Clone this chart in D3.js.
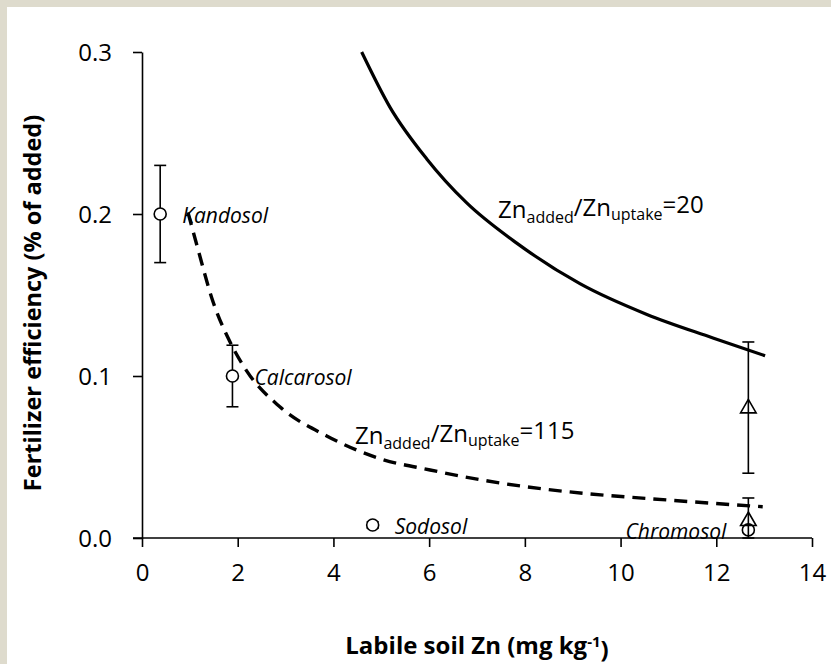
<!DOCTYPE html>
<html>
<head>
<meta charset="utf-8">
<script src="https://cdn.jsdelivr.net/npm/d3@7"></script>
<style>
  html, body { margin: 0; padding: 0; background: #ffffff; }
  svg { display: block; }
</style>
</head>
<body>
<svg id="chart" width="831" height="664"></svg>
<script>
// Soil observations: circles are one series, triangles the second series
const soils = ["Kandosol", "Calcarosol", "Sodosol", "Chromosol"];
const soilZn = [0.38, 1.89, 4.82, 12.67];
const soilEff = [0.200, 0.100, 0.008, 0.005];
const soilErr = [0.030, 0.019, 0.002, 0.000];
const labelSide = ["right", "right", "right", "left"];

const triZn = [12.67, 12.67];
const triEff = [0.080, 0.0105];
const triErrHi = [0.041, 0.0142];
const triErrLo = [0.040, 0.0105];

// Reference curve Zn_added/Zn_uptake = 20 (solid)
const curve20Zn = [4.59, 5.18, 5.95, 6.78, 7.83, 9.15, 10.55, 11.93, 13.02];
const curve20Eff = [0.300, 0.266, 0.234, 0.207, 0.182, 0.157, 0.138, 0.1235, 0.1125];

// Reference curve Zn_added/Zn_uptake = 115 (dashed)
const curve115Zn = [0.96, 1.2, 1.46, 1.84, 2.19, 2.88, 3.86, 4.97, 6.02, 7.06, 8.46, 9.22, 10.96, 12.97];
const curve115Eff = [0.201, 0.175, 0.148, 0.121, 0.103, 0.081, 0.063, 0.049, 0.042, 0.036, 0.030, 0.0276, 0.0235, 0.0193];

// Curve annotations: ratio value and text anchor (data units)
const ratioLabels = ["20", "115"];
const ratioAnchorZn = [7.44, 4.45];
const ratioAnchorEff = [0.1975, 0.058];

const xTicks = [0, 2, 4, 6, 8, 10, 12, 14];
const yTicks = [0.0, 0.1, 0.2, 0.3];

const W = 831, H = 664;
const margin = { left: 142, right: 19, top: 52, bottom: 126 };
const FONT = "'Open Sans', 'Liberation Sans', sans-serif";

const svg = d3.select("#chart");

// beige frame on the left and top edges
svg.append("rect").attr("x", 0).attr("y", 0).attr("width", W).attr("height", H).attr("fill", "#dedbcd");
svg.append("rect").attr("x", 7).attr("y", 7).attr("width", W - 7).attr("height", H - 7).attr("fill", "#ffffff");

const x = d3.scaleLinear().domain([0, 14]).range([margin.left, W - margin.right]);
const y = d3.scaleLinear().domain([0, 0.3]).range([H - margin.bottom, margin.top]);

// axes
const xAxis = svg.append("g")
  .attr("transform", `translate(0,${y(0)})`)
  .call(d3.axisBottom(x).tickValues(xTicks).tickFormat(d3.format("d")).tickSize(9).tickSizeOuter(0).tickPadding(17));
const yAxis = svg.append("g")
  .attr("transform", `translate(${x(0)},0)`)
  .call(d3.axisLeft(y).tickValues(yTicks).tickFormat(d3.format(".1f")).tickSize(9).tickSizeOuter(0).tickPadding(21));

[xAxis, yAxis].forEach(g => {
  g.select(".domain").attr("stroke", "#000").attr("stroke-width", 1.6);
  g.selectAll(".tick line").attr("stroke", "#000").attr("stroke-width", 1.6);
  g.selectAll(".tick text").attr("fill", "#000").style("font-family", FONT).style("font-size", "24px");
});
// x axis line reaches back to the y tick length
xAxis.select(".domain").attr("d", `M${x(0) - 9},0H${x(14)}`);
yAxis.selectAll(".tick text").attr("dy", "0.36em");

// axis titles
svg.append("text")
  .attr("transform", `translate(41,${303}) rotate(-90)`)
  .attr("text-anchor", "middle")
  .style("font-family", FONT).style("font-weight", "bold").style("font-size", "23.5px")
  .text("Fertilizer efficiency (% of added)");

const xt = svg.append("text")
  .attr("x", (x(0) + x(14)) / 2).attr("y", 654)
  .attr("text-anchor", "middle")
  .style("font-family", FONT).style("font-weight", "bold").style("font-size", "24px");
xt.append("tspan").text("Labile soil Zn (mg kg");
xt.append("tspan").attr("dy", "-0.45em").style("font-size", "15px").text("-1");
xt.append("tspan").attr("dy", "0.45em").text(")");

// reference curves
const line = d3.line().x(d => x(d[0])).y(d => y(d[1])).curve(d3.curveMonotoneX);
svg.append("path")
  .datum(curve20Zn.map((v, i) => [v, curve20Eff[i]]))
  .attr("d", line).attr("fill", "none").attr("stroke", "#000").attr("stroke-width", 3.2);
svg.append("path")
  .datum(curve115Zn.map((v, i) => [v, curve115Eff[i]]))
  .attr("d", line).attr("fill", "none").attr("stroke", "#000").attr("stroke-width", 3.4)
  .attr("stroke-dasharray", "13,8");

// curve annotations
ratioLabels.forEach((r, i) => {
  const t = svg.append("text")
    .attr("x", x(ratioAnchorZn[i])).attr("y", y(ratioAnchorEff[i]))
    .style("font-family", FONT).style("font-size", "24px").attr("fill", "#000");
  t.append("tspan").text("Zn");
  t.append("tspan").attr("dy", "0.3em").style("font-size", "16px").text("added");
  t.append("tspan").attr("dy", "-0.3em").text("/Zn");
  t.append("tspan").attr("dy", "0.3em").style("font-size", "16px").text("uptake");
  t.append("tspan").attr("dy", "-0.3em").text("=" + r);
});

// error bar helper
function errorBar(g, cx, lo, hi) {
  const px = x(cx), cap = 6;
  g.append("line").attr("x1", px).attr("x2", px).attr("y1", y(lo)).attr("y2", y(hi));
  g.append("line").attr("x1", px - cap).attr("x2", px + cap).attr("y1", y(hi)).attr("y2", y(hi));
  g.append("line").attr("x1", px - cap).attr("x2", px + cap).attr("y1", y(lo)).attr("y2", y(lo));
}

// circle series
const gc = svg.append("g").attr("stroke", "#000").attr("stroke-width", 1.6);
soils.forEach((s, i) => {
  if (soilErr[i] > 0) errorBar(gc, soilZn[i], soilEff[i] - soilErr[i], soilEff[i] + soilErr[i]);
});
gc.selectAll("circle").data(soils).join("circle")
  .attr("cx", (d, i) => x(soilZn[i])).attr("cy", (d, i) => y(soilEff[i]))
  .attr("r", 6).attr("fill", "#fff");

// triangle series
const gt = svg.append("g").attr("stroke", "#000").attr("stroke-width", 1.6).attr("fill", "none");
triZn.forEach((v, i) => errorBar(gt, v, triEff[i] - triErrLo[i], triEff[i] + triErrHi[i]));
gt.selectAll("path.tri").data(triZn).join("path").attr("class", "tri")
  .attr("d", d3.symbol(d3.symbolTriangle, 105))
  .attr("transform", (d, i) => `translate(${x(d)},${y(triEff[i])})`);

// soil names
svg.append("g").selectAll("text").data(soils).join("text")
  .attr("x", (d, i) => x(soilZn[i]) + (labelSide[i] === "right" ? 22 : -22))
  .attr("y", (d, i) => y(soilEff[i]) + 9)
  .attr("text-anchor", (d, i) => labelSide[i] === "right" ? "start" : "end")
  .style("font-family", FONT).style("font-style", "italic").style("font-size", "21px")
  .attr("fill", "#000")
  .text(d => d);
</script>
</body>
</html>
